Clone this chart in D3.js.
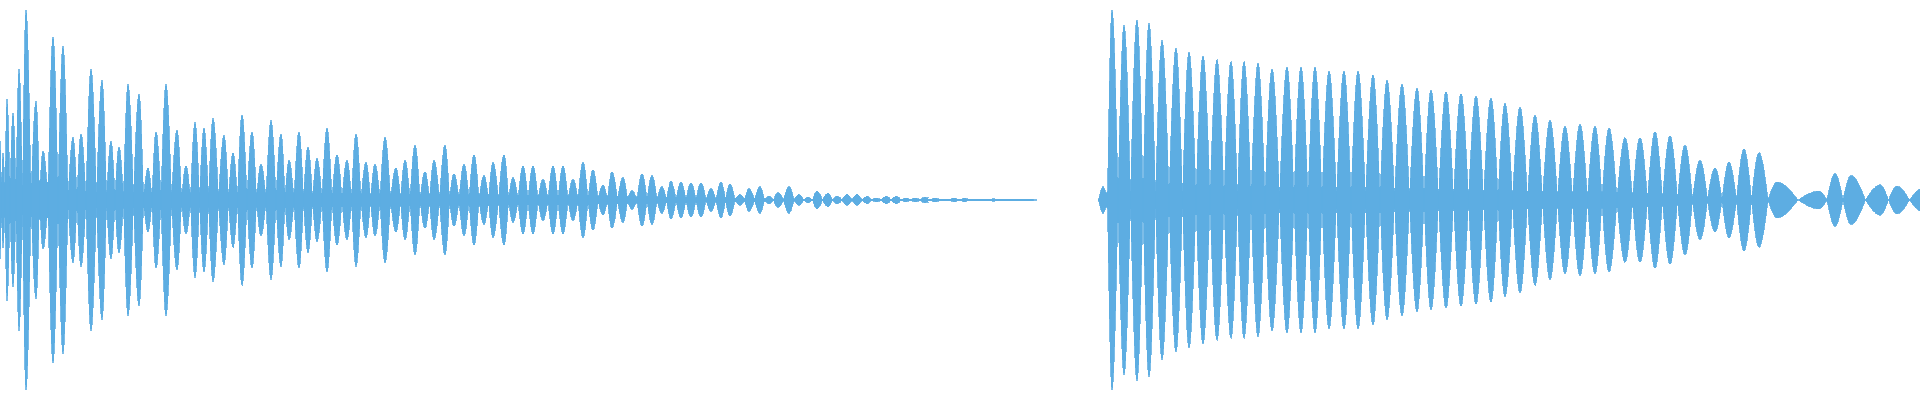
<!DOCTYPE html>
<html><head><meta charset="utf-8">
<script src="https://cdn.jsdelivr.net/npm/d3@7"></script>
<style>html,body{margin:0;padding:0;background:#fff;overflow:hidden}</style>
</head><body><svg id="chart" width="1920" height="400"></svg>
<script>
// Clip 1: beat peaks (time, % of full scale)
const leftPeakTimes = [0,3,7,13,19,26,36,43,53,63,73,81,91,102,111,119,128,139,148,156,166,177,186,195,204,213,224,233,242,252,261,271,281,289,299,308,317,327,337,347,356,366,375,385,396,405,415,425,434,445,454,464,474,484,493,504,513,523,533,543,553,563,573,583,593,603,612,623,632,642,652,662,671,681,691,701,711,721,730,740,749,760,769,778,789,799,808,817,828,837,847,857,867,876,886,896,906,915,925,935,945,954,965,973,983,993,1004,1013,1023,1032];
const leftPeakAmps = [31,25,53,46,69,100,52,26,86,81,33,35,69,63,31,28,61,56,17,36,61,37,18,41,38,43,34,25,45,36,19,42,35,21,36,28,22,38,24,21,35,20,19,33,17,21,29,15,21,29,14,19,24,13,20,24,12,18,18,11,18,18,11,20,16,8,15,12,5,14,13,7,10,9.5,9,9,6,9.5,8.5,3,6,7,2,4,7,3,1.6,4.7,3.7,2,3,3,2,1,2,2,1,1,1.6,1,0.3,1,1,0.3,0.5,0.7,0.4,0.3,0.3,0.3];
// Clip 1: carrier floor between beats
const leftFloorTimes = [0,20,45,60,300,500,600,700,800,1033];
const leftFloorAmps = [9.5,7.4,10.5,4.2,3.7,2.6,2.1,1.1,0.3,0.3];

// Clip 2
const rightPeakTimes = [1103,1112,1124,1137,1149,1162,1176,1189,1203,1217,1231,1244,1258,1272,1287,1301,1315,1329,1344,1358,1373,1387,1402,1417,1431,1446,1461,1476,1491,1505,1520,1535,1550,1565,1580,1595,1609,1625,1640,1655,1670,1685,1700,1715,1729,1744,1759,1777,1819,1835,1851,1880,1897,1922];
const rightPeakAmps = [7,100,92,95,93,84,80,78,76,74,73,73,72,69,70,70,70,68,68,68,66,63,61,59,58,57,56,55,54,51,49,45,42,39,40,39,38,33,33,36,34,29,21,17,20,27,25,9.5,4.7,14,13,8,7.4,6];
const rightFloorTimes = [1098,1104,1108,1400,1620,1700,1770,1795];
const rightFloorAmps = [0.3,2,4.7,4.7,4.2,1.6,1,0];

const W = 1920, H = 400;
const color = "#5dade2";
const x = d3.scaleLinear().domain([0, 1920]).range([0, W]);
const y = d3.scaleLinear().domain([-100, 100]).range([390, 10]);
const svg = d3.select("#chart");

const lobeArea = d3.area()
  .x(d => x(d.t)).y0(d => y(-d.a)).y1(d => y(d.a))
  .curve(d3.curveMonotoneX);
const bandArea = d3.area()
  .x(d => x(d.t)).y0(d => y(-d.a)).y1(d => y(d.a))
  .curve(d3.curveLinear);

function lobes(times, amps) {
  return times.map((t, i) => {
    const prev = i > 0 ? times[i - 1] : t - (times[1] - t);
    const next = i < times.length - 1 ? times[i + 1] : t + (t - times[i - 1]);
    return [{t: (prev + t) / 2, a: 0}, {t: t, a: amps[i]}, {t: (t + next) / 2, a: 0}];
  });
}

function drawClip(name, floorT, floorA, peakT, peakA) {
  const g = svg.append("g").attr("class", name).attr("shape-rendering", "crispEdges");
  g.append("path")
    .datum(floorT.map((t, i) => ({t: t, a: floorA[i]})))
    .attr("d", bandArea)
    .attr("fill", color).attr("stroke", color).attr("stroke-width", 0.8);
  g.selectAll("path.lobe")
    .data(lobes(peakT, peakA))
    .join("path").attr("class", "lobe")
    .attr("d", lobeArea)
    .attr("fill", color).attr("stroke", color).attr("stroke-width", 0.8);
}

drawClip("clip1", leftFloorTimes, leftFloorAmps, leftPeakTimes, leftPeakAmps);
drawClip("clip2", rightFloorTimes, rightFloorAmps, rightPeakTimes, rightPeakAmps);
</script>
</body></html>
